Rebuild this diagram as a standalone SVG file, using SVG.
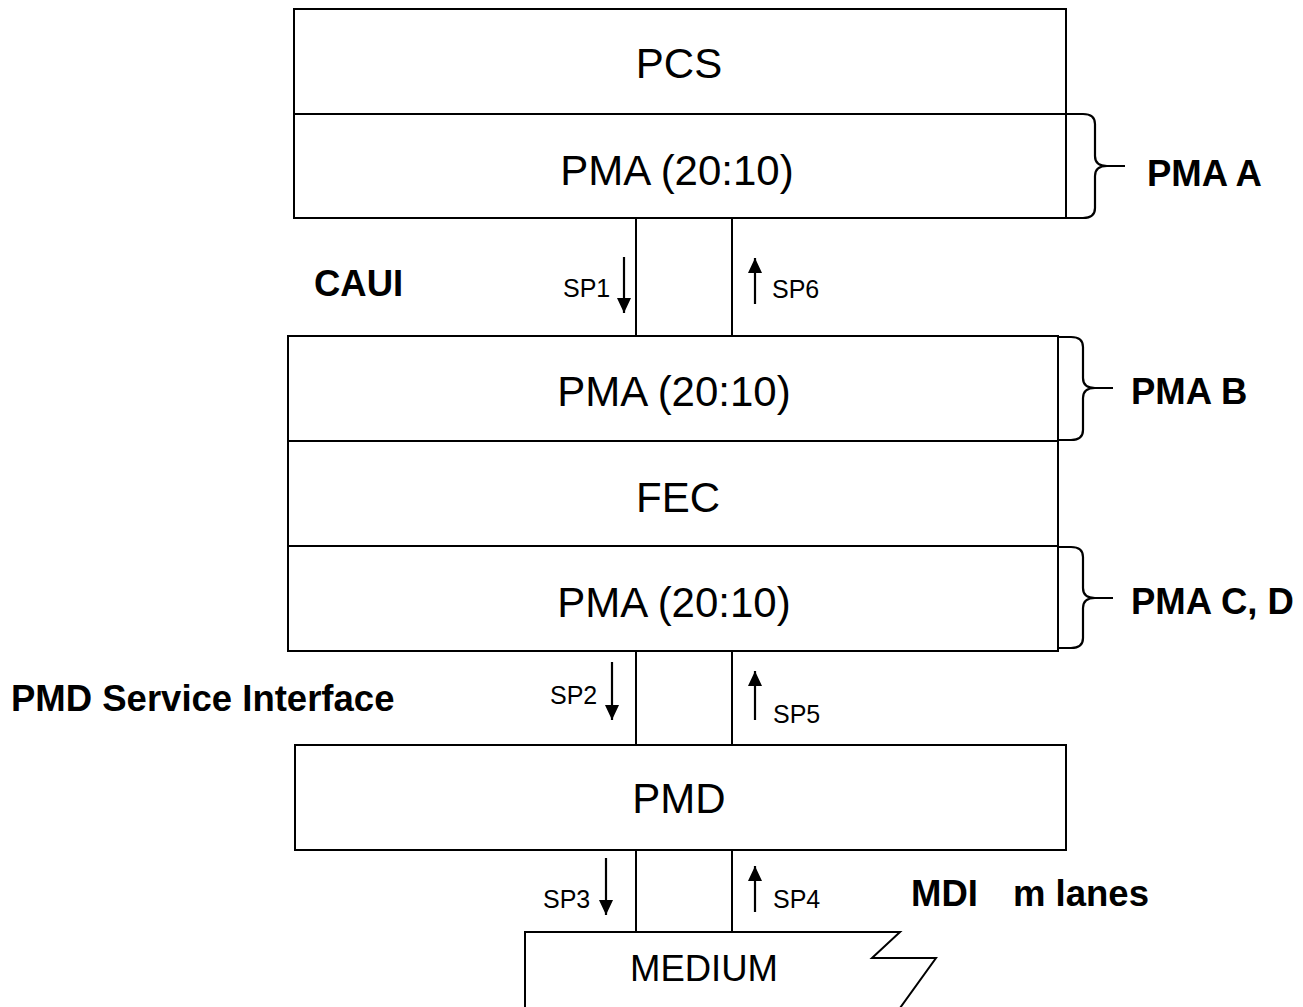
<svg xmlns="http://www.w3.org/2000/svg" width="1303" height="1007" viewBox="0 0 1303 1007">
<style>
.box{fill:#fff;stroke:#000;stroke-width:2}
.br{fill:none;stroke:#000;stroke-width:2.2}
.main{font-family:"Liberation Sans",Arial,sans-serif;font-size:42px;text-anchor:middle;fill:#000}
.lbl{font-family:"Liberation Sans",Arial,sans-serif;font-size:36.5px;font-weight:bold;fill:#000}
.sp{font-family:"Liberation Sans",Arial,sans-serif;font-size:25px;fill:#000}
.arr{stroke:#000;stroke-width:2.2;fill:none}
</style>
<defs>
<marker id="ah2" viewBox="0 0 15 14" refX="15" refY="7" markerWidth="15" markerHeight="14" markerUnits="userSpaceOnUse" orient="auto">
<path d="M0,0 L15,7 L0,14 Z" fill="#000"/>
</marker>
</defs>

<g id="pcs">
<rect class="box" x="294" y="9" width="772" height="105"/>
<text class="main" x="679" y="78">PCS</text>
</g>
<g id="pma-a">
<rect class="box" x="294" y="114" width="772" height="104"/>
<text class="main" x="677" y="185">PMA (20:10)</text>
</g>
<g id="pma-b">
<rect class="box" x="288" y="336" width="770" height="105"/>
<text class="main" x="674" y="406">PMA (20:10)</text>
</g>
<g id="fec">
<rect class="box" x="288" y="441" width="770" height="105"/>
<text class="main" x="678" y="512">FEC</text>
</g>
<g id="pma-cd">
<rect class="box" x="288" y="546" width="770" height="105"/>
<text class="main" x="674" y="617">PMA (20:10)</text>
</g>
<g id="pmd">
<rect class="box" x="295" y="745" width="771" height="105"/>
<text class="main" x="679" y="813">PMD</text>
</g>
<g id="medium">
<path d="M525,1008 L525,932 L900,932 L872,958 L936,958 L900,1008" fill="#fff" stroke="#000" stroke-width="2"/>
<text class="main" x="704" y="981" style="font-size:36.5px">MEDIUM</text>
</g>

<g id="caui">
<rect class="box" x="636" y="218" width="96" height="118"/>
</g>
<g id="pmd-si">
<rect class="box" x="636" y="651" width="96" height="94"/>
</g>
<g id="mdi">
<rect class="box" x="636" y="850" width="96" height="82"/>
</g>

<g id="connectors">
<line class="arr" x1="624" y1="257" x2="624" y2="313" marker-end="url(#ah2)"/>
<line class="arr" x1="755" y1="304" x2="755" y2="258" marker-end="url(#ah2)"/>
<line class="arr" x1="612" y1="662" x2="612" y2="720" marker-end="url(#ah2)"/>
<line class="arr" x1="755" y1="720" x2="755" y2="671" marker-end="url(#ah2)"/>
<line class="arr" x1="606" y1="858" x2="606" y2="915" marker-end="url(#ah2)"/>
<line class="arr" x1="755" y1="912" x2="755" y2="866" marker-end="url(#ah2)"/>
<path class="br" d="M1066,114 L1083,114 Q1095,114 1095,124 L1095,156 Q1095,166 1107,166 L1125,166 M1107,166 Q1095,166 1095,176 L1095,208 Q1095,218 1083,218 L1066,218"/>
<path class="br" d="M1058,337 L1071,337 Q1083,337 1083,347 L1083,378 Q1083,388 1095,388 L1113,388 M1095,388 Q1083,388 1083,398 L1083,430 Q1083,440 1071,440 L1058,440"/>
<path class="br" d="M1058,547 L1071,547 Q1083,547 1083,557 L1083,588 Q1083,598 1095,598 L1113,598 M1095,598 Q1083,598 1083,608 L1083,638 Q1083,648 1071,648 L1058,648"/>
</g>

<g id="labels">
<text class="sp" x="563" y="297">SP1</text>
<text class="sp" x="772" y="298">SP6</text>
<text class="sp" x="550" y="704">SP2</text>
<text class="sp" x="773" y="723">SP5</text>
<text class="sp" x="543" y="908">SP3</text>
<text class="sp" x="773" y="908">SP4</text>
<text class="lbl" x="1147" y="186">PMA A</text>
<text class="lbl" x="1131" y="404">PMA B</text>
<text class="lbl" x="1131" y="614">PMA C, D</text>
<text class="lbl" x="314" y="296">CAUI</text>
<text class="lbl" x="11" y="711">PMD Service Interface</text>
<text class="lbl" x="911" y="906">MDI</text>
<text class="lbl" x="1013" y="906">m lanes</text>
</g>
</svg>
